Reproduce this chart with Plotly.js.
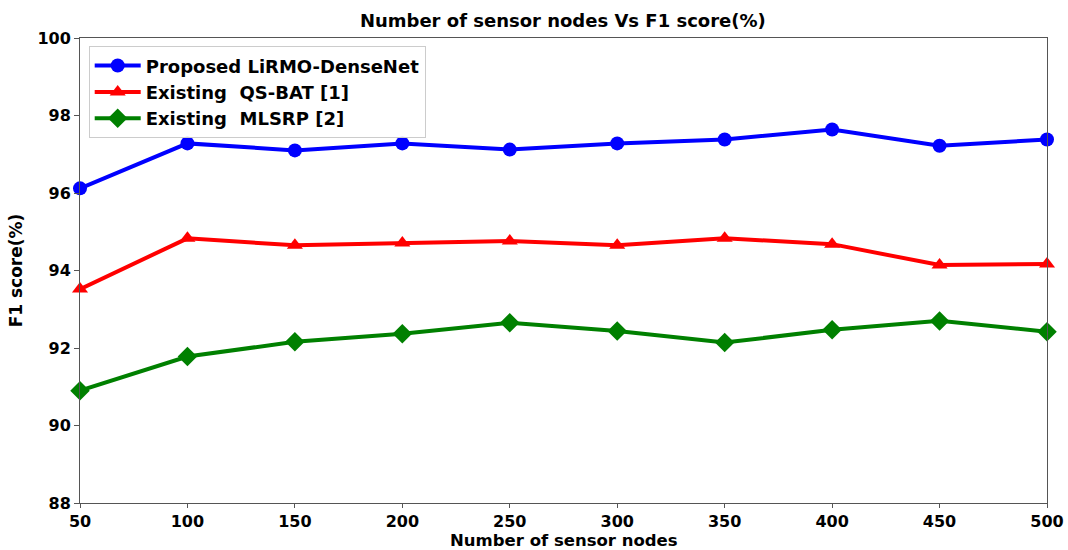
<!DOCTYPE html>
<html>
<head>
<meta charset="utf-8">
<script src="https://cdn.plot.ly/plotly-3.0.1.min.js"></script>
<style>html,body{margin:0;padding:0;background:#fff;}#chart{width:1068px;height:550px;}</style>
</head>
<body>
<div id="chart"></div>
<script>
const nodes = [50, 100, 150, 200, 250, 300, 350, 400, 450, 500];
const proposed = [96.12, 97.28, 97.10, 97.28, 97.12, 97.28, 97.38, 97.64, 97.22, 97.38];
const qsbat = [93.52, 94.83, 94.65, 94.71, 94.76, 94.65, 94.83, 94.68, 94.14, 94.17];
const mlsrp = [90.90, 91.78, 92.16, 92.37, 92.65, 92.44, 92.14, 92.47, 92.70, 92.42];
const seriesNames = ['Proposed LiRMO-DenseNet', 'Existing  QS-BAT [1]', 'Existing  MLSRP [2]'];
const yTicks = [88, 90, 92, 94, 96, 98, 100];
const xTicks = [50, 100, 150, 200, 250, 300, 350, 400, 450, 500];

const font = 'DejaVu Sans, sans-serif';
const traces = [
  {x: nodes, y: proposed, name: seriesNames[0], mode: 'lines+markers',
   line: {color: '#0000ff', width: 4}, marker: {symbol: 'circle', size: 14, color: '#0000ff'}, cliponaxis: false},
  {x: nodes, y: qsbat, name: seriesNames[1], mode: 'lines+markers',
   line: {color: '#ff0000', width: 4}, marker: {symbol: 'triangle-up', size: 14, color: '#ff0000'}, cliponaxis: false},
  {x: nodes, y: mlsrp, name: seriesNames[2], mode: 'lines+markers',
   line: {color: '#008000', width: 4}, marker: {symbol: 'diamond', size: 15, color: '#008000'}, cliponaxis: false}
];
const layout = {
  width: 1068, height: 550,
  margin: {l: 80, r: 21, t: 38, b: 47},
  paper_bgcolor: '#fff', plot_bgcolor: '#fff',
  font: {family: font, color: '#000'},
  title: {text: '<b>Number of sensor nodes Vs F1 score(%)</b>', font: {family: font, size: 18, color: '#000'},
          x: 0.527, xanchor: 'center', y: 0.962, yanchor: 'middle'},
  xaxis: {range: [50, 500], tickvals: xTicks, ticktext: xTicks.map(v => '<b>' + v + '</b>'),
          showgrid: false, zeroline: false, showline: true, linecolor: '#555', linewidth: 1, mirror: true,
          ticks: 'outside', ticklen: 4, tickcolor: '#555', tickfont: {family: font, size: 16, color: '#000'},
          automargin: false},
  yaxis: {range: [88, 100], tickvals: yTicks, ticktext: yTicks.map(v => '<b>' + v + '</b>'),
          showgrid: false, zeroline: false, showline: true, linecolor: '#555', linewidth: 1, mirror: true,
          ticks: 'outside', ticklen: 5, tickcolor: '#555', tickfont: {family: font, size: 16, color: '#000'},
          title: {text: '<b>F1 score(%)</b>', font: {family: font, size: 17, color: '#000'}, standoff: 10},
          automargin: false},
  annotations: [
    {text: '<b>Number of sensor nodes</b>', xref: 'paper', yref: 'paper', x: 0.5, y: -0.0796,
     xanchor: 'center', yanchor: 'middle', showarrow: false, font: {family: font, size: 16.5, color: '#000'}}
  ],
  legend: {x: 0.009, y: 0.982, xanchor: 'left', yanchor: 'top', bgcolor: 'rgba(255,255,255,0.8)',
           bordercolor: '#ccc', borderwidth: 1, font: {family: font, size: 18, color: '#000'},
           itemwidth: 46, tracegroupgap: 0},
  showlegend: true
};
traces.forEach(t => t.name = '<b>' + t.name + '</b>');
Plotly.newPlot('chart', traces, layout, {displayModeBar: false, staticPlot: true});
</script>
</body>
</html>
